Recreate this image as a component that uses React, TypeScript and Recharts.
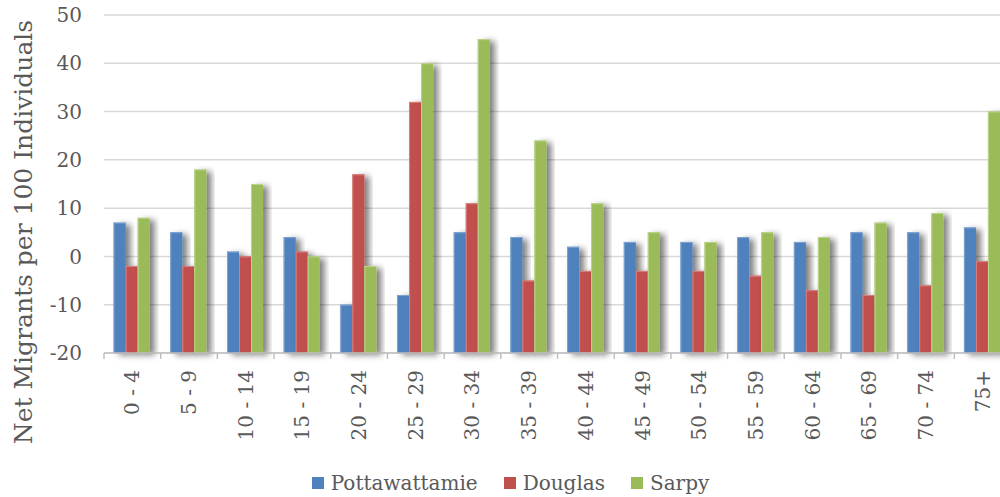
import { BarChart, Bar, XAxis, YAxis, CartesianGrid, Legend, Label } from "recharts";

const ageGroups = [
    "0 - 4", "5 - 9", "10 - 14", "15 - 19", "20 - 24", "25 - 29", "30 - 34", "35 - 39",
    "40 - 44", "45 - 49", "50 - 54", "55 - 59", "60 - 64", "65 - 69", "70 - 74", "75+",
];
const pottawattamie = [7, 5, 1, 4, -10, -8, 5, 4, 2, 3, 3, 4, 3, 5, 5, 6];
const douglas = [-2, -2, 0, 1, 17, 32, 11, -5, -3, -3, -3, -4, -7, -8, -6, -1];
const sarpy = [8, 18, 15, 0, -2, 40, 45, 24, 11, 5, 3, 5, 4, 7, 9, 30];
const seriesNames = ["Pottawattamie", "Douglas", "Sarpy"];
const yTicks = [-20, -10, 0, 10, 20, 30, 40, 50];

// the value axis starts at -20 and the bars grow up from there, like the excel original
const AXIS_FLOOR = -20;

const data = ageGroups.map((age, i) => ({
    age,
    pottawattamie: pottawattamie[i],
    douglas: douglas[i],
    sarpy: sarpy[i],
}));

const CHART_W = 1012;
const CHART_H = 497;
const Y_AXIS_W = 104;
const RIGHT = 1;
const band = (CHART_W - Y_AXIS_W - RIGHT) / ageGroups.length;

const FONT = "'DejaVu Serif', Georgia, serif";
const TEXT = "#595959";

const ShadowBar = (props: any) => {
    const { x, y, width, height, fill, edge } = props;
    if (height == null || width == null) return null;
    return (
        <g>
            <rect x={x} y={y} width={width} height={height} fill={fill} filter="url(#barShadow)" />
            <line x1={x} y1={y + 0.5} x2={x + width} y2={y + 0.5} stroke={edge} strokeWidth={1} />
            <line x1={x + 0.5} y1={y} x2={x + 0.5} y2={y + height} stroke={edge} strokeWidth={1} />
        </g>
    );
};

const AgeTick = (props: any) => {
    const { x, y, payload } = props;
    const left = x - band / 2;
    return (
        <g>
            <line x1={left} y1={y} x2={left} y2={y + 6} stroke="#BFBFBF" strokeWidth={1.5} />
            <text
                x={x}
                y={y + 17}
                transform={`rotate(-90 ${x} ${y + 17})`}
                textAnchor="end"
                dy="0.35em"
                fill={TEXT}
                fontSize={20}
                fontFamily={FONT}
            >
                {payload.value}
            </text>
        </g>
    );
};

const LegendBox = (props: any) => {
    const items = seriesNames
        .map((name) => props.payload.find((p: any) => p.value === name))
        .filter(Boolean);
    return (
        <div style={{ display: "flex", justifyContent: "center", alignItems: "center", height: 32, paddingLeft: 10, paddingTop: 2 }}>
            {items.map((item: any) => (
                <div key={item.value} style={{ display: "flex", alignItems: "center", margin: "0 13px" }}>
                    <span style={{ width: 12, height: 12, background: item.color, marginRight: 7 }} />
                    <span style={{ fontFamily: FONT, fontSize: 20, color: TEXT }}>{item.value}</span>
                </div>
            ))}
        </div>
    );
};

export default function App() {
    return (
        <div style={{ position: "absolute", left: 0, top: 0, width: 1000, height: 497, overflow: "hidden", background: "#fff" }}>
            <BarChart
                width={CHART_W}
                height={CHART_H}
                data={data}
                margin={{ top: 15, right: RIGHT, bottom: 0, left: 0 }}
                barCategoryGap="17%"
                barGap={0}
            >
                <defs>
                    <filter id="barShadow" x="-30%" y="-10%" width="200%" height="130%">
                        <feDropShadow dx={5} dy={2} stdDeviation={3} floodColor="#000" floodOpacity={0.5} />
                    </filter>
                </defs>
                <CartesianGrid vertical={false} stroke="#D9D9D9" strokeWidth={1.5} />
                <XAxis
                    dataKey="age"
                    interval={0}
                    height={112}
                    tickSize={0}
                    tickMargin={0}
                    tickLine={false}
                    axisLine={{ stroke: "#BFBFBF", strokeWidth: 1.5 }}
                    tick={<AgeTick />}
                />
                <YAxis
                    width={Y_AXIS_W}
                    domain={[AXIS_FLOOR, 50]}
                    ticks={yTicks}
                    interval={0}
                    axisLine={false}
                    tickLine={false}
                    tickSize={0}
                    tickMargin={22}
                    tick={{ fill: TEXT, fontSize: 20, fontFamily: FONT }}
                >
                    <Label
                        content={() => (
                            <text
                                x={23}
                                y={232}
                                transform="rotate(-90 23 232)"
                                textAnchor="middle"
                                dominantBaseline="central"
                                fill={TEXT}
                                fontSize={25}
                                fontFamily={FONT}
                            >
                                Net Migrants per 100 Individuals
                            </text>
                        )}
                    />
                </YAxis>
                <Legend verticalAlign="bottom" content={<LegendBox />} wrapperStyle={{ height: 32 }} />
                <Bar
                    name="Pottawattamie"
                    dataKey={(d: any) => [AXIS_FLOOR, d.pottawattamie]}
                    fill="#4F81BD"
                    shape={<ShadowBar edge="#7FA3D1" />}
                    isAnimationActive={false}
                />
                <Bar
                    name="Douglas"
                    dataKey={(d: any) => [AXIS_FLOOR, d.douglas]}
                    fill="#C0504D"
                    shape={<ShadowBar edge="#D8807E" />}
                    isAnimationActive={false}
                />
                <Bar
                    name="Sarpy"
                    dataKey={(d: any) => [AXIS_FLOOR, d.sarpy]}
                    fill="#9BBB59"
                    shape={<ShadowBar edge="#BCD48B" />}
                    isAnimationActive={false}
                />
            </BarChart>
        </div>
    );
}
